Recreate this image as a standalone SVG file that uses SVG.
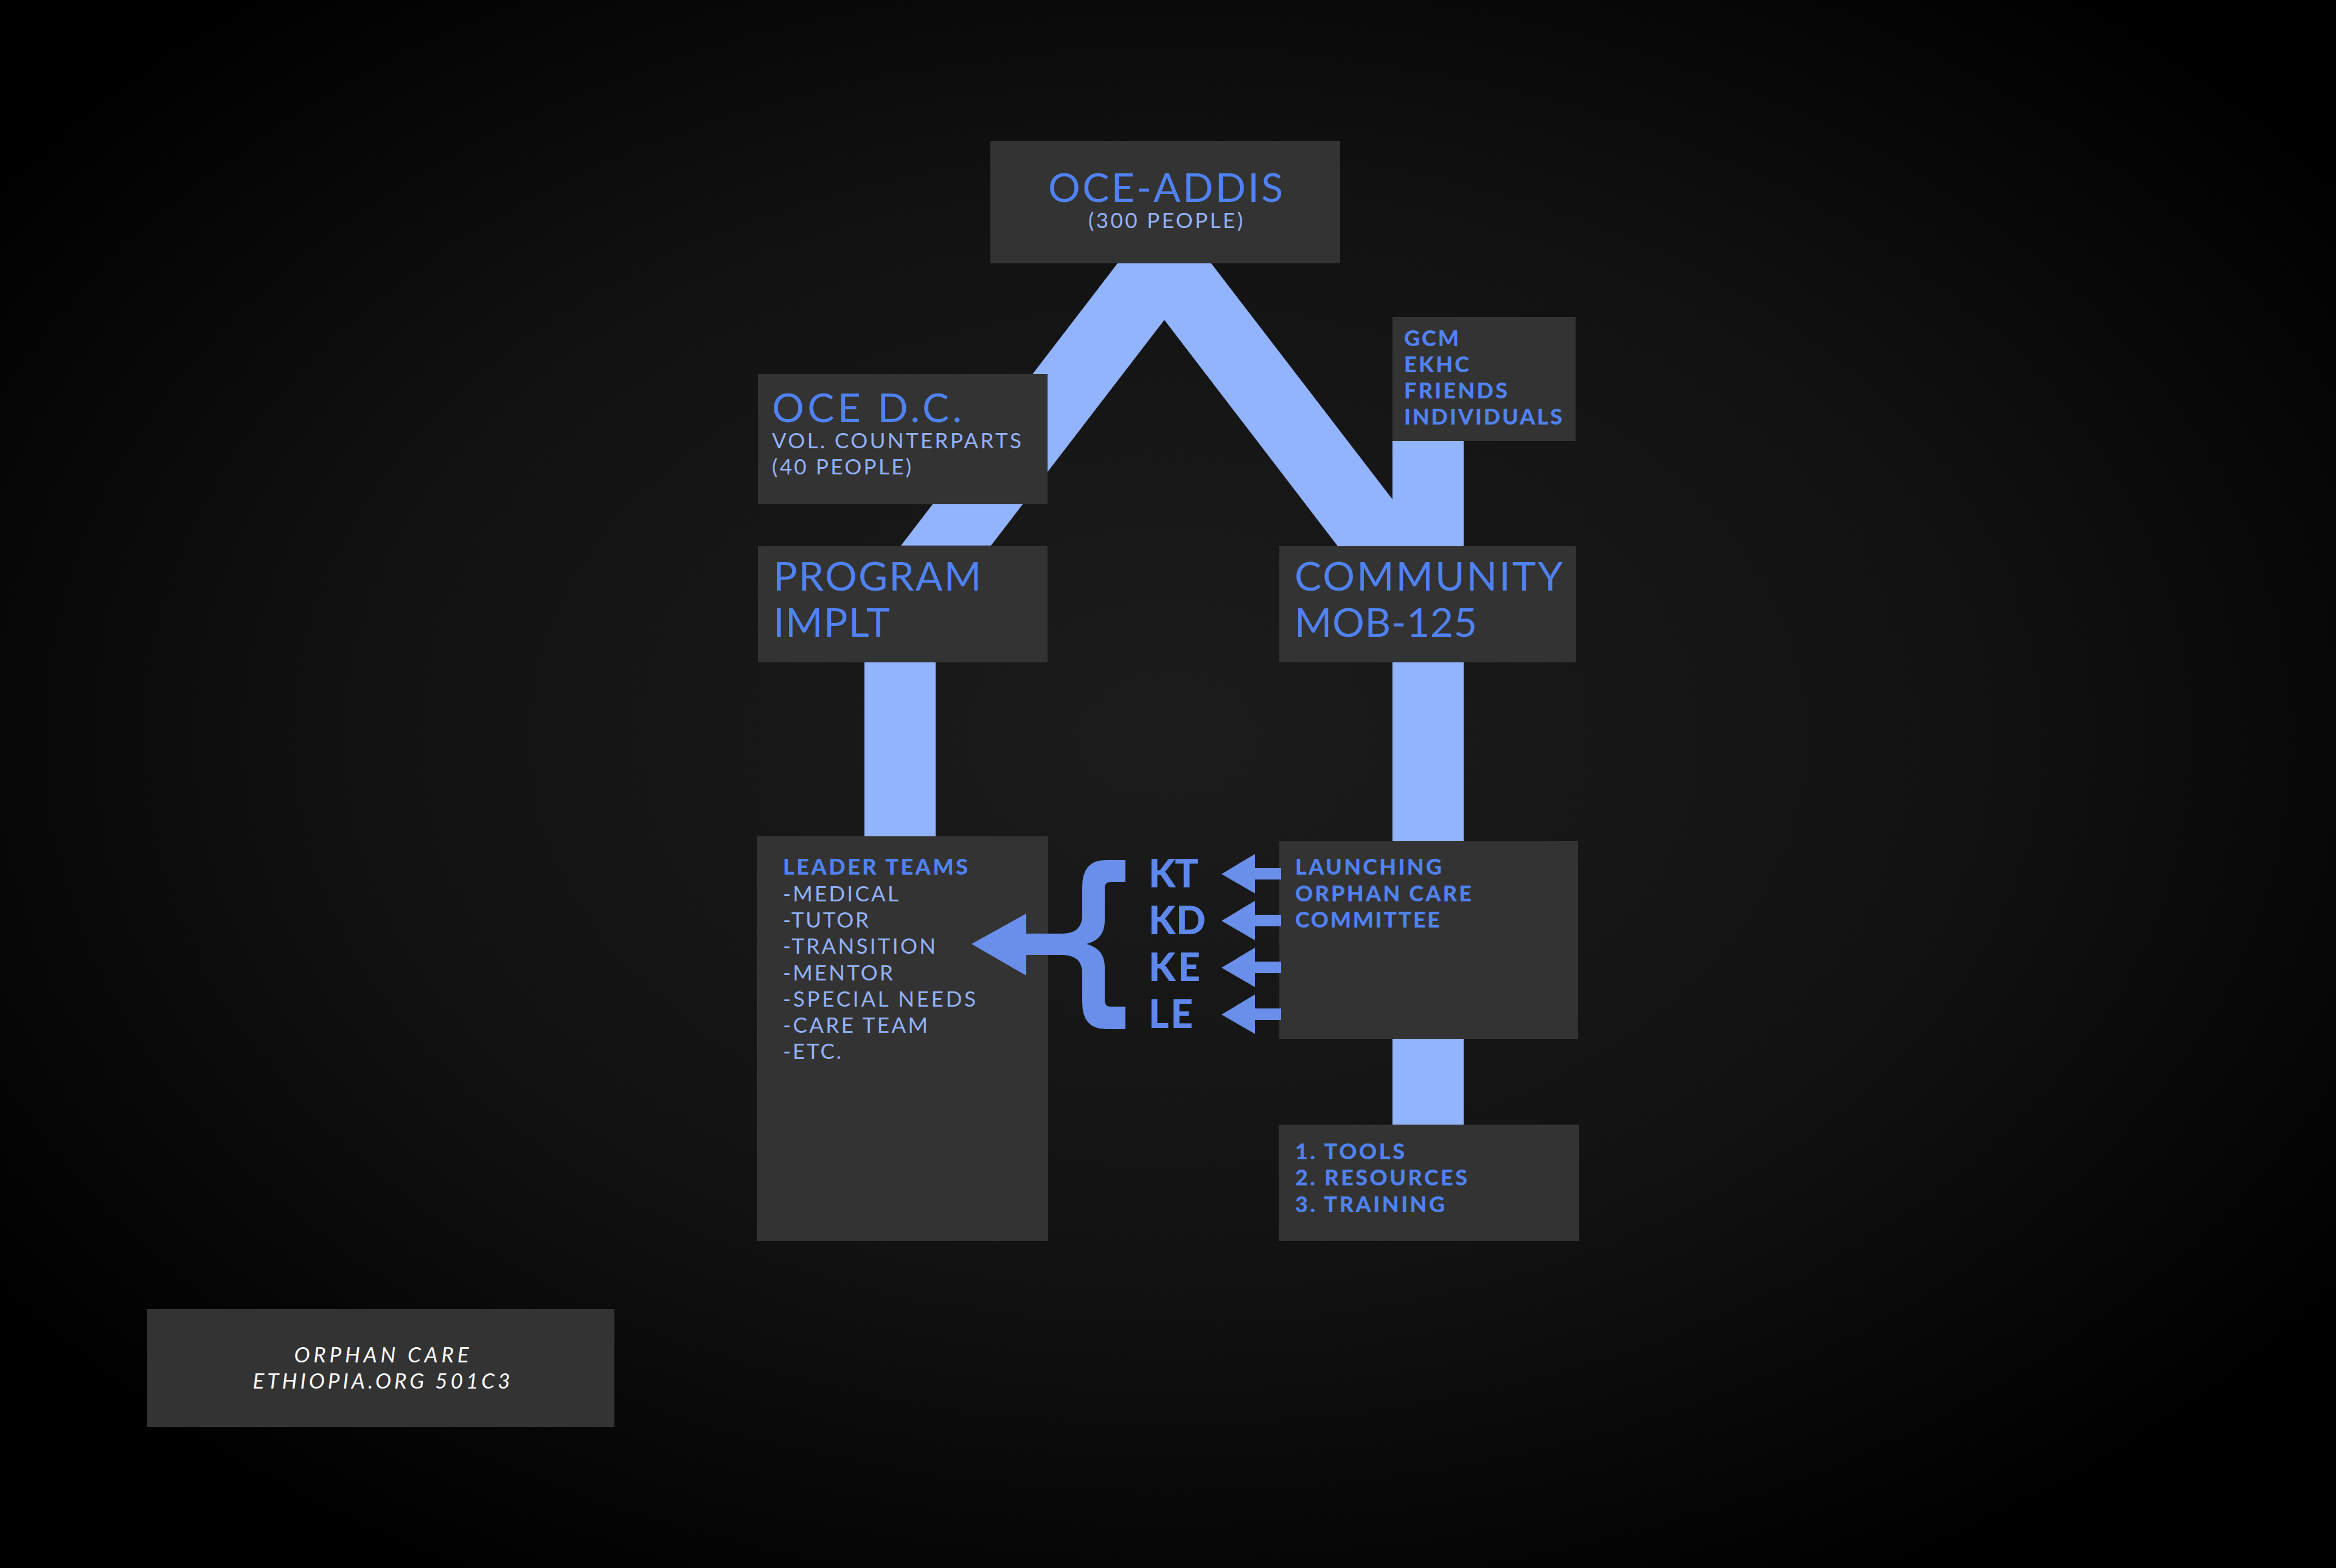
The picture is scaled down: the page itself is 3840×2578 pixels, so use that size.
<svg xmlns="http://www.w3.org/2000/svg" width="3840" height="2578" viewBox="0 0 3840 2578">
<defs>
<radialGradient id="bg" cx="50%" cy="47%" r="62%">
<stop offset="0" stop-color="#1c1c1c"/>
<stop offset="0.55" stop-color="#121212"/>
<stop offset="1" stop-color="#000000"/>
</radialGradient>
<style>
.box{fill:#333333}
.band{fill:#92b3fe}
.arr{fill:#698fea}
text{font-family:"Lato","Liberation Sans",sans-serif}
.t{font-size:66px;fill:#5082f3;font-weight:400}
.s{font-size:35px;fill:#93b2fb;font-weight:400}
.b{font-size:36px;fill:#5082f3;font-weight:900}
.k{font-size:64px;fill:#5f88ee;font-weight:900}
.f{font-size:35px;fill:#ffffff;font-style:italic;font-weight:400}
</style>
</defs>
<rect x="0" y="0" width="3840" height="2578" fill="url(#bg)"/>

<g id="connectors">
<polygon class="band" points="1837,433 1991,433 2289,821 2289,725 2406,725 2406,898 2199,898 1914,526 1629,897 1481,897"/>
<rect class="band" x="1421" y="1085" width="117" height="295"/>
<rect class="band" x="2289" y="1085" width="117" height="302"/>
<rect class="band" x="2289" y="1704" width="117" height="148"/>
</g>

<g id="oce-addis">
<rect class="box" x="1628" y="232" width="575" height="201"/>
<text class="t" x="1916" y="332" text-anchor="middle" textLength="386" lengthAdjust="spacing">OCE-ADDIS</text>
<text class="s" x="1916" y="375" text-anchor="middle" textLength="254" lengthAdjust="spacing">(300 PEOPLE)</text>
</g>

<g id="oce-dc">
<rect class="box" x="1246" y="615" width="476" height="214"/>
<text class="t" x="1269" y="694" textLength="312" lengthAdjust="spacing">OCE D.C.</text>
<text class="s" x="1269" y="737" textLength="410" lengthAdjust="spacing">VOL. COUNTERPARTS</text>
<text class="s" x="1269" y="780" textLength="229" lengthAdjust="spacing">(40 PEOPLE)</text>
</g>

<g id="gcm">
<rect class="box" x="2289" y="521" width="301" height="204"/>
<text class="b" x="2308" y="569" textLength="90" lengthAdjust="spacing">GCM</text>
<text class="b" x="2308" y="612" textLength="107" lengthAdjust="spacing">EKHC</text>
<text class="b" x="2308" y="655" textLength="170" lengthAdjust="spacing">FRIENDS</text>
<text class="b" x="2308" y="698" textLength="260" lengthAdjust="spacing">INDIVIDUALS</text>
</g>

<g id="program-implt">
<rect class="box" x="1246" y="898" width="476" height="191"/>
<text class="t" x="1271" y="971" textLength="342" lengthAdjust="spacing">PROGRAM</text>
<text class="t" x="1271" y="1047" textLength="192" lengthAdjust="spacing">IMPLT</text>
</g>

<g id="community">
<rect class="box" x="2103" y="898" width="488" height="191"/>
<text class="t" x="2128" y="971" textLength="441" lengthAdjust="spacing">COMMUNITY</text>
<text class="t" x="2128" y="1047" textLength="300" lengthAdjust="spacing">MOB-125</text>
</g>

<g id="leader-teams">
<rect class="box" x="1244" y="1375" width="479" height="665"/>
<text class="b" x="1287" y="1438" textLength="304" lengthAdjust="spacing">LEADER TEAMS</text>
<text class="s" x="1287" y="1482" textLength="190" lengthAdjust="spacing">-MEDICAL</text>
<text class="s" x="1287" y="1525" textLength="141" lengthAdjust="spacing">-TUTOR</text>
<text class="s" x="1287" y="1568" textLength="251" lengthAdjust="spacing">-TRANSITION</text>
<text class="s" x="1287" y="1612" textLength="181" lengthAdjust="spacing">-MENTOR</text>
<text class="s" x="1287" y="1655" textLength="317" lengthAdjust="spacing">-SPECIAL NEEDS</text>
<text class="s" x="1287" y="1698" textLength="238" lengthAdjust="spacing">-CARE TEAM</text>
<text class="s" x="1287" y="1741" textLength="96" lengthAdjust="spacing">-ETC.</text>
</g>

<g id="codes">
<text class="k" x="1888" y="1459" textLength="82" lengthAdjust="spacing">KT</text>
<text class="k" x="1888" y="1536" textLength="94" lengthAdjust="spacing">KD</text>
<text class="k" x="1888" y="1613" textLength="85" lengthAdjust="spacing">KE</text>
<text class="k" x="1888" y="1690" textLength="73" lengthAdjust="spacing">LE</text>
</g>

<g id="launching">
<rect class="box" x="2103" y="1383" width="491" height="325"/>
<text class="b" x="2129" y="1438" textLength="241" lengthAdjust="spacing">LAUNCHING</text>
<text class="b" x="2129" y="1482" textLength="290" lengthAdjust="spacing">ORPHAN CARE</text>
<text class="b" x="2129" y="1525" textLength="238" lengthAdjust="spacing">COMMITTEE</text>
</g>

<g id="tools">
<rect class="box" x="2102" y="1849" width="494" height="191"/>
<text class="b" x="2129" y="1906" textLength="180" lengthAdjust="spacing">1. TOOLS</text>
<text class="b" x="2129" y="1949" textLength="283" lengthAdjust="spacing">2. RESOURCES</text>
<text class="b" x="2129" y="1993" textLength="246" lengthAdjust="spacing">3. TRAINING</text>
</g>

<g id="footer">
<rect class="box" x="242" y="2152" width="768" height="194"/>
<text class="f" x="627" y="2240" text-anchor="middle" textLength="287" lengthAdjust="spacing">ORPHAN CARE</text>
<text class="f" x="627" y="2283" text-anchor="middle" textLength="423" lengthAdjust="spacing">ETHIOPIA.ORG 501C3</text>
</g>

<g id="arrow-connectors">
<polygon class="arr" points="2008,1437 2063,1404 2063,1427 2106,1427 2106,1446 2063,1446 2063,1469"/>
<polygon class="arr" points="2008,1514 2063,1481 2063,1504 2106,1504 2106,1523 2063,1523 2063,1546"/>
<polygon class="arr" points="2008,1591 2063,1558 2063,1581 2106,1581 2106,1600 2063,1600 2063,1623"/>
<polygon class="arr" points="2008,1668 2063,1635 2063,1658 2106,1658 2106,1677 2063,1677 2063,1700"/>
<path id="brace-arrow" class="arr" d="M1850,1414 L1818,1414 Q1779,1414 1779,1458 L1779,1505 Q1779,1535 1745,1535 L1687,1535 L1687,1502 L1597,1552 L1687,1604 L1687,1570 L1745,1570 Q1779,1570 1779,1600 L1779,1648 Q1779,1692 1818,1692 L1850,1692 L1850,1655 L1826,1655 Q1816,1655 1816,1645 L1816,1590 Q1816,1560 1786,1552 Q1816,1544 1816,1514 L1816,1460 Q1816,1450 1826,1450 L1850,1450 Z"/>
</g>
</svg>
